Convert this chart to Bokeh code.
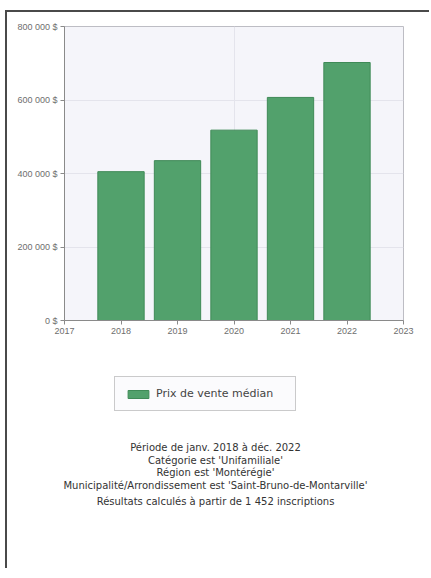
from bokeh.plotting import figure
from bokeh.models import (ColumnDataSource, Legend, LegendItem, Label, FixedTicker,
                          CustomJSTickFormatter, Range1d)
from bokeh.embed import file_html
from bokeh.resources import INLINE

years = [2018, 2019, 2020, 2021, 2022]
prix_median = [405000, 435000, 518000, 607000, 702000]
serie_nom = "Prix de vente médian"
y_ticks = [0, 200000, 400000, 600000, 800000]
x_ticks = [2017, 2018, 2019, 2020, 2021, 2022, 2023]
notes = [
    "Période de janv. 2018 à déc. 2022",
    "Catégorie est 'Unifamiliale'",
    "Région est 'Montérégie'",
    "Municipalité/Arrondissement est 'Saint-Bruno-de-Montarville'",
]
resultats = "Résultats calculés à partir de 1 452 inscriptions"

BAR_FILL = "#52a16c"
BAR_LINE = "#3f8a57"

src = ColumnDataSource(dict(x=years, top=prix_median))

# --- chart ---
p = figure(width=424, height=333, output_backend="svg", toolbar_location=None,
           x_range=Range1d(2017, 2023), y_range=Range1d(0, 800000),
           min_border_left=57, min_border_right=28, min_border_top=14,
           min_border_bottom=25)
p.styles = {"margin-left": "5px", "margin-top": "10px",
            "border-left": "2px solid #4a4a4a", "border-top": "2px solid #4a4a4a"}
p.background_fill_color = "#f5f5fa"
p.border_fill_color = "white"
p.outline_line_color = "#bdbdc4"

r = p.vbar(x="x", top="top", width=0.82, source=src, fill_color=BAR_FILL,
           line_color=BAR_LINE, line_width=1)

p.xaxis.ticker = FixedTicker(ticks=x_ticks)
p.yaxis.ticker = FixedTicker(ticks=y_ticks)
p.yaxis.formatter = CustomJSTickFormatter(
    code="return tick.toFixed(0).replace(/\\B(?=(\\d{3})+(?!\\d))/g, ' ') + ' $';")
for ax in (p.xaxis, p.yaxis):
    ax.axis_line_color = "#8a8a8a"
    ax.major_tick_line_color = "#8a8a8a"
    ax.minor_tick_line_color = None
    ax.major_tick_in = 0
    ax.major_tick_out = 4
    ax.major_label_text_font = "Liberation Sans"
    ax.major_label_text_font_size = "9px"
    ax.major_label_text_color = "#6e6e6e"
    ax.major_label_standoff = 3

p.ygrid.ticker = FixedTicker(ticks=[200000, 400000, 600000])
p.ygrid.grid_line_color = "#e4e4ec"
p.xgrid.ticker = FixedTicker(ticks=[2020])
p.xgrid.grid_line_color = "#e4e4ec"

# --- legend & notes panel (separate root, full-width frame) ---
q = figure(width=424, height=225, output_backend="svg", toolbar_location=None,
           x_range=Range1d(0, 1), y_range=Range1d(0, 1),
           x_axis_type=None, y_axis_type=None,
           min_border_left=0, min_border_right=0, min_border_top=0,
           min_border_bottom=0)
q.styles = {"margin-left": "5px", "border-left": "2px solid #4a4a4a"}
q.outline_line_color = None
q.background_fill_color = "white"
q.border_fill_color = "white"
q.xgrid.visible = False
q.ygrid.visible = False

# same series, outside this panel's view: only feeds the legend swatch
proxy = q.vbar(x="x", top="top", width=0.82, source=src, fill_color=BAR_FILL,
               line_color=BAR_LINE)

legend = Legend(items=[LegendItem(label=serie_nom, renderers=[proxy])],
                location=(107, 157), orientation="horizontal",
                border_line_color="#9a9a9a", border_line_width=1,
                background_fill_color="#fbfbfd", background_fill_alpha=1,
                padding=10, margin=0, glyph_width=26, glyph_height=10,
                label_standoff=5, label_width=129, label_height=10,
                label_text_font="DejaVu Sans",
                label_text_font_size="11px", label_text_color="#444444")
q.add_layout(legend, "center")

ys = [121.5, 108.2, 95.8, 83.2]
for t, yy in zip(notes, ys):
    q.add_layout(Label(x=208, y=yy, x_units="screen", y_units="screen", text=t,
                       text_align="center", text_baseline="middle",
                       text_font="DejaVu Sans", text_font_size="10px",
                       text_color="#333333"))
q.add_layout(Label(x=208, y=67.2, x_units="screen", y_units="screen", text=resultats,
                   text_align="center", text_baseline="middle",
                   text_font="DejaVu Sans", text_font_size="10px",
                   text_color="#333333"))

open("out.html", "w").write(file_html([p, q], INLINE))
